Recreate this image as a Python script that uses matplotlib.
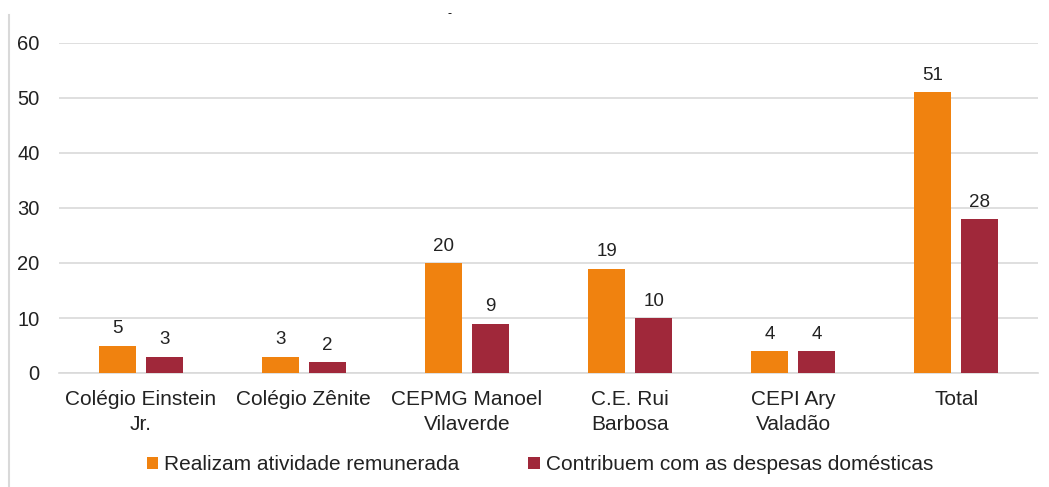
import matplotlib.pyplot as plt
import numpy as np

plt.rcParams["font.family"] = ["Liberation Sans", "DejaVu Sans"]

escolas = ["Colégio Einstein\nJr.", "Colégio Zênite", "CEPMG Manoel\nVilaverde",
           "C.E. Rui\nBarbosa", "CEPI Ary\nValadão", "Total"]
remunerada = [5, 3, 20, 19, 4, 51]
despesas = [3, 2, 9, 10, 4, 28]
series_names = ["Realizam atividade remunerada", "Contribuem com as despesas domésticas"]

orange = "#F0820F"
wine = "#A0283A"

fig = plt.figure(figsize=(10.49, 4.87), dpi=100)
ax = fig.add_axes([59 / 1049, 1 - 373 / 487, (1038 - 59) / 1049, 330 / 487])

x = np.arange(len(escolas))
w = 0.227
off = 0.144
b1 = ax.bar(x - off, remunerada, w, color=orange, label=series_names[0], zorder=3)
b2 = ax.bar(x + off, despesas, w, color=wine, label=series_names[1], zorder=3)

for bars in (b1, b2):
    for r in bars:
        ax.annotate(str(int(r.get_height())), (r.get_x() + r.get_width() / 2, r.get_height()),
                    xytext=(0, 6), textcoords="offset points", ha="center", va="bottom",
                    fontsize=13.5, color="#222222")

ax.set_xlim(-0.5, len(escolas) - 0.5)
ax.set_ylim(0, 60)
ax.set_yticks(range(0, 61, 10))
ax.set_xticks(x)
ax.set_xticklabels(escolas, fontsize=15, color="#222222", linespacing=1.4)
ax.tick_params(axis="y", labelsize=14.5, colors="#222222", length=0, pad=14)
ax.tick_params(axis="x", length=0, pad=12)
ax.grid(axis="y", color="#d9d9d9", linewidth=1.2, zorder=0)
for s in ["top", "right", "left"]:
    ax.spines[s].set_visible(False)
ax.spines["bottom"].set_color("#d9d9d9")
ax.spines["bottom"].set_linewidth(1.2)

fig.legend(loc="center", bbox_to_anchor=(540 / 1049, 1 - 465 / 487), ncol=2, frameon=False,
           fontsize=15, handlelength=0.55, handleheight=0.55, handletextpad=0.3,
           columnspacing=3.3, labelcolor="#222222")

# left border line and small mark at top
fig.add_artist(plt.Line2D([8.5 / 1049, 8.5 / 1049], [0, 1 - 15 / 487], color="#d9d9d9",
                          linewidth=1.5, transform=fig.transFigure))
fig.text(449 / 1049, 1 - 14 / 487, "-", fontsize=9, ha="center", va="center")

fig.savefig("out.png", dpi=100)
